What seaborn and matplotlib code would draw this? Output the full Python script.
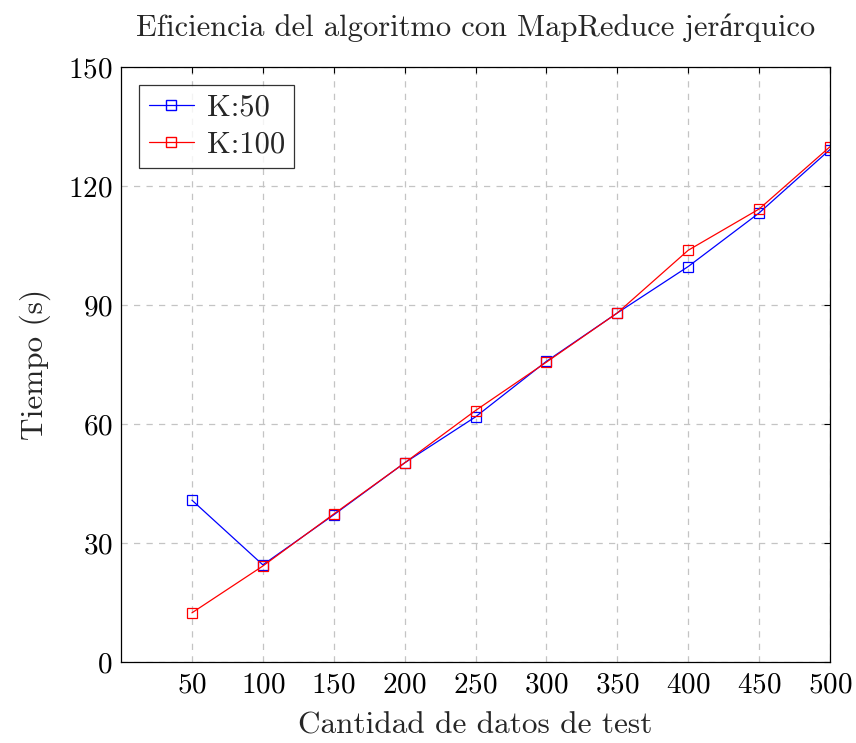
import matplotlib
matplotlib.use("Agg")
import matplotlib.pyplot as plt
import seaborn as sns
import pandas as pd
from matplotlib.lines import Line2D

x_vals = [50, 100, 150, 200, 250, 300, 350, 400, 450, 500]
k50 = [40.8, 24.5, 37.1, 50.2, 61.8, 75.8, 88.0, 99.7, 113.2, 129.2]
k100 = [12.4, 24.2, 37.3, 50.2, 63.4, 75.6, 88.0, 103.8, 114.2, 129.9]
series_names = ["K:50", "K:100"]
colors = ["#0000ff", "#ff0000"]
y_ticks = [0, 30, 60, 90, 120, 150]

df = pd.DataFrame({
    "x": x_vals * 2,
    "y": k50 + k100,
    "serie": [series_names[0]] * len(x_vals) + [series_names[1]] * len(x_vals),
})

sns.set_style("white")
plt.rcParams["font.family"] = ["cmr10", "Liberation Serif"]
plt.rcParams["mathtext.fontset"] = "cm"
plt.rcParams["axes.formatter.use_mathtext"] = True

fig = plt.figure(figsize=(8.56, 7.43), dpi=100)
ax = fig.add_axes([0.1414, 0.109, 0.9696 - 0.1414, 0.9098 - 0.109])

sns.lineplot(data=df, x="x", y="y", hue="serie", palette=colors, marker="s",
             markersize=7, markerfacecolor="none", markeredgewidth=0.9,
             linewidth=0.9, ax=ax, legend=False)
for line, c in zip(ax.lines, colors):
    line.set_markeredgecolor(c)

ax.set_xlim(0, 500)
ax.set_ylim(0, 150)
ax.set_xticks(x_vals)
ax.set_yticks(y_ticks)
ax.grid(True, color="#c4c4c4", linestyle=(0, (5, 5)), linewidth=0.9)
ax.set_axisbelow(True)
for s in ax.spines.values():
    s.set_color("black")
    s.set_linewidth(0.9)
ax.tick_params(direction="in", length=4, labelsize=21, width=0.8,
               top=True, right=True, colors="black")
ax.tick_params(axis="x", pad=7)
ax.tick_params(axis="y", pad=6)
ax.set_xlabel("Cantidad de datos de test", fontsize=22.5, labelpad=10)
ax.set_ylabel("Tiempo (s)", fontsize=22.5, labelpad=12)
ax.set_title("Eficiencia del algoritmo con MapReduce jerárquico", fontsize=22, pad=22)

handles = [Line2D([], [], color=c, marker="s", markersize=7, markerfacecolor="none",
                  markeredgecolor=c, linewidth=0.9) for c in colors]
leg = ax.legend(handles, series_names, loc="upper left", fontsize=22,
                frameon=True, fancybox=False, edgecolor="black",
                borderaxespad=0.6, handlelength=1.5, borderpad=0.3,
                labelspacing=0.3, handletextpad=0.4)
leg.get_frame().set_linewidth(0.9)

fig.savefig("out.png", dpi=100)
